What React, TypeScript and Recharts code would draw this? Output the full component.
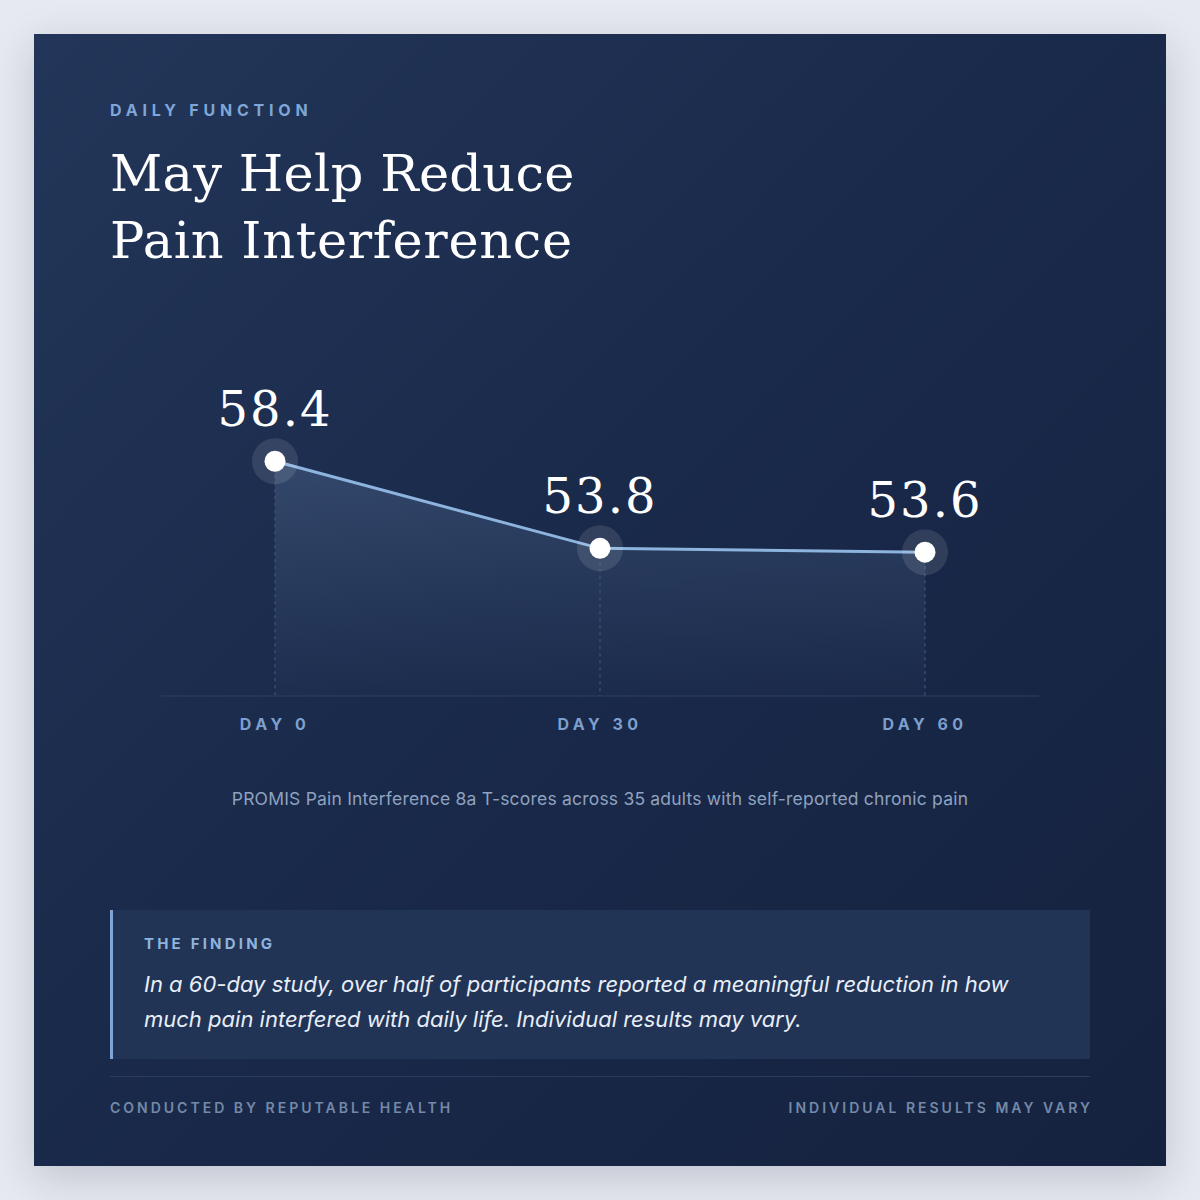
import { AreaChart, Area, XAxis, YAxis, ReferenceLine, LabelList } from "recharts";

const days = ["DAY 0", "DAY 30", "DAY 60"];
const scores = [58.4, 53.8, 53.6];
const scoreDomain = [46, 60];

const data = days.map((day, i) => ({ day, score: scores[i] }));

const SANS = "Inter, 'Noto Sans', sans-serif";
const SERIF = "'DejaVu Serif', serif";

function ScoreDot(props: any) {
  const { cx, cy, index } = props;
  return (
    <g key={`dot-${index}`}>
      <circle cx={cx} cy={cy} r={23} fill="#ffffff" fillOpacity={0.11} />
      <circle cx={cx} cy={cy} r={10.5} fill="#ffffff" />
    </g>
  );
}

function ScoreLabel(props: any) {
  const { x, y, value } = props;
  return (
    <text
      x={x}
      y={y - 35}
      textAnchor="middle"
      fill="#ffffff"
      fontFamily={SERIF}
      fontSize={48}
      letterSpacing={2}
    >
      {value}
    </text>
  );
}

function DayTick(props: any) {
  const { x, y, payload } = props;
  return (
    <text
      x={x}
      y={y + 34}
      textAnchor="middle"
      fill="#7d9fcc"
      fontFamily={SANS}
      fontWeight={700}
      fontSize={16}
      letterSpacing={4.5}
    >
      {payload.value}
    </text>
  );
}

export default function App() {
  return (
    <div
      style={{
        position: "relative",
        width: 1200,
        height: 1200,
        background: "#e6e9ef",
        fontFamily: SANS,
        overflow: "hidden",
      }}
    >
      <style>{`body{margin:0}`}</style>
      <div
        style={{
          position: "absolute",
          left: 34,
          top: 34,
          width: 1132,
          height: 1132,
          background: "linear-gradient(135deg, #233659 0%, #1a2a4b 45%, #15223f 100%)",
          boxShadow: "0 12px 40px rgba(20,30,60,0.18)",
        }}
      />

      <div
        style={{
          position: "absolute",
          left: 110,
          top: 100,
          lineHeight: "20px",
          fontSize: 16,
          fontWeight: 700,
          letterSpacing: 4.8,
          color: "#7fa6d6",
        }}
      >
        DAILY FUNCTION
      </div>

      <div
        style={{
          position: "absolute",
          left: 110,
          top: 140,
          fontFamily: SERIF,
          fontSize: 51,
          lineHeight: "67px",
          letterSpacing: 0.3,
          color: "#ffffff",
        }}
      >
        May Help Reduce
        <br />
        <span style={{ letterSpacing: 0.7 }}>Pain Interference</span>
      </div>

      <div style={{ position: "absolute", left: 141, top: 380 }}>
        <AreaChart
          width={918}
          height={400}
          data={data}
          margin={{ top: 51, right: 20, left: 20, bottom: 0 }}
        >
          <defs>
            <linearGradient id="areaFill" x1="0" y1="0" x2="0" y2="1">
              <stop offset="0%" stopColor="#8db4df" stopOpacity={0.32} />
              <stop offset="100%" stopColor="#8db4df" stopOpacity={0.03} />
            </linearGradient>
          </defs>
          <XAxis
            dataKey="day"
            interval={0}
            tickLine={false}
            tickSize={0}
            tickMargin={0}
            axisLine={{ stroke: "#2d4062", strokeWidth: 1 }}
            padding={{ left: 114, right: 114 }}
            height={84}
            tick={DayTick}
          />
          <YAxis hide domain={scoreDomain} type="number" />
          {data.map((d) => (
            <ReferenceLine
              key={d.day}
              segment={[
                { x: d.day, y: d.score },
                { x: d.day, y: scoreDomain[0] },
              ]}
              stroke="#3a4e70"
              strokeWidth={1.5}
              strokeDasharray="3 4"
            />
          ))}
          <Area
            type="linear"
            dataKey="score"
            stroke="#8db4df"
            strokeWidth={3}
            fill="url(#areaFill)"
            dot={ScoreDot}
            activeDot={false}
            isAnimationActive={false}
          >
            <LabelList dataKey="score" content={ScoreLabel} />
          </Area>
        </AreaChart>
      </div>

      <div
        style={{
          position: "absolute",
          left: 0,
          width: 1200,
          top: 787,
          lineHeight: "24px",
          textAlign: "center",
          fontSize: 17.5,
          letterSpacing: 0.2,
          color: "#8fa2bf",
        }}
      >
        PROMIS Pain Interference 8a T-scores across 35 adults with self-reported chronic pain
      </div>

      <div
        style={{
          position: "absolute",
          left: 110,
          top: 910,
          width: 977,
          height: 149,
          background: "#213456",
          borderLeft: "3px solid #7fa6d6",
        }}
      >
        <div
          style={{
            position: "absolute",
            left: 31,
            top: 25,
            lineHeight: "18px",
            fontSize: 15,
            fontWeight: 700,
            letterSpacing: 3.2,
            color: "#8fb3dc",
          }}
        >
          THE FINDING
        </div>
        <div
          style={{
            position: "absolute",
            left: 31,
            top: 57,
            width: 900,
            lineHeight: "35px",
            fontSize: 22,
            fontStyle: "italic",
            color: "#e8eef7",
          }}
        >
          In a 60-day study, over half of participants reported a meaningful reduction in how
          much pain interfered with daily life. Individual results may vary.
        </div>
      </div>

      <div
        style={{
          position: "absolute",
          left: 110,
          top: 1076,
          width: 980,
          height: 1,
          background: "#2b3d5e",
        }}
      />
      <div
        style={{
          position: "absolute",
          left: 110,
          top: 1099,
          lineHeight: "18px",
          fontSize: 14,
          fontWeight: 600,
          letterSpacing: 3,
          color: "#7489a8",
        }}
      >
        CONDUCTED BY REPUTABLE HEALTH
      </div>
      <div
        style={{
          position: "absolute",
          right: 110,
          top: 1099,
          lineHeight: "18px",
          fontSize: 14,
          fontWeight: 600,
          letterSpacing: 3,
          marginRight: -3,
          color: "#7489a8",
        }}
      >
        INDIVIDUAL RESULTS MAY VARY
      </div>
    </div>
  );
}
